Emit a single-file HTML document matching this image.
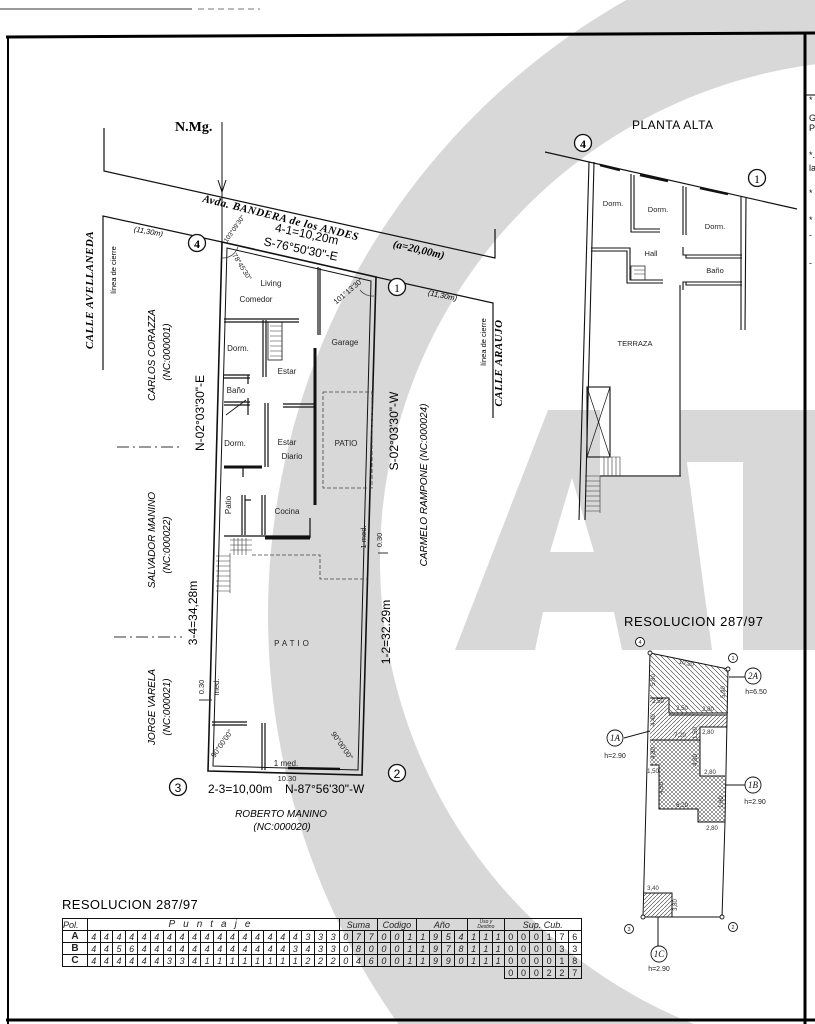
<!DOCTYPE html>
<html><head><meta charset="utf-8">
<style>
html,body{margin:0;padding:0;background:#fff;width:815px;height:1024px;overflow:hidden;}
body{position:relative;font-family:"Liberation Sans",sans-serif;}
svg{position:absolute;left:0;top:0;overflow:hidden;}
table{position:absolute;left:62px;top:918px;border-collapse:collapse;table-layout:fixed;font-family:"Liberation Sans",sans-serif;font-style:italic;font-size:9px;color:#222;}
td{border:1px solid #111;height:11px;padding:0;text-align:center;line-height:10px;overflow:hidden;white-space:nowrap;}
td.h{font-size:9px;}
td.p{font-style:normal;font-weight:bold;font-size:10px;}
td.n{border:none;}
td.s{font-style:normal;font-size:9px;}
</style></head><body>
<svg width="815" height="1024" viewBox="0 0 815 1024" xmlns="http://www.w3.org/2000/svg">
<defs>
<clipPath id="pg"><rect x="0" y="0" width="815" height="1024"/></clipPath>
<pattern id="hb" width="5" height="5" patternUnits="userSpaceOnUse"><path d="M-1,-1 L6,6" stroke="#333" stroke-width="0.6"/></pattern>
<pattern id="hf" width="4" height="4" patternUnits="userSpaceOnUse"><path d="M-1,5 L5,-1" stroke="#333" stroke-width="0.6"/></pattern>
<pattern id="hx" width="4" height="4" patternUnits="userSpaceOnUse"><path d="M0,0 L4,4 M0,4 L4,0" stroke="#333" stroke-width="0.5"/></pattern>
</defs>
<g clip-path="url(#pg)">
<circle cx="975" cy="615" r="707" fill="#d8d8d8"/>
<circle cx="880" cy="560" r="500" fill="#fff"/>
<path d="M455,650 L548,410 L680,410 L712,650 Z" fill="#d8d8d8"/>
<path d="M550,552 L572,478 L594,552 Z" fill="#fff"/>
<path d="M543,612 L614,612 L622,650 L535,650 Z" fill="#fff"/>
<rect x="670" y="410" width="145" height="52" fill="#d8d8d8"/>
<rect x="743" y="462" width="72" height="188" fill="#d8d8d8"/>
<rect x="600" y="380" width="80" height="95" fill="#fff"/>
</g>

<line x1="0" y1="9" x2="192" y2="9" stroke="#333" stroke-width="1"/>
<line x1="198" y1="9" x2="260" y2="9" stroke="#777" stroke-width="1" stroke-dasharray="6,4"/>
<line x1="6" y1="37" x2="815" y2="33" stroke="#000" stroke-width="3"/>
<line x1="8" y1="36" x2="8" y2="1024" stroke="#000" stroke-width="2"/>
<line x1="805" y1="33" x2="805" y2="1024" stroke="#000" stroke-width="3"/>
<line x1="6" y1="1020" x2="815" y2="1020" stroke="#000" stroke-width="3"/>
<line x1="805" y1="95" x2="815" y2="95" stroke="#000" stroke-width="1"/>
<g font-size="9" fill="#111">
<text x="809" y="103">*</text><text x="809" y="121">G</text><text x="809" y="131">P</text>
<text x="809" y="158">*.</text><text x="809" y="171">la</text>
<text x="809" y="196">*</text><text x="809" y="223">*</text><text x="809" y="238">-</text><text x="809" y="266">-</text>
</g>

<text x="175" y="131" font-family="Liberation Serif,serif" font-weight="bold" font-size="14">N.Mg.</text>
<line x1="222" y1="122" x2="222" y2="243" stroke="#111" stroke-width="1"/>
<path d="M218,180 L222,192 L226,180" fill="none" stroke="#111" stroke-width="1"/>

<polyline points="104,128 104,171 495,258 495,229" fill="none" stroke="#111" stroke-width="1.2"/>
<polyline points="103,370 103,216 222,242" fill="none" stroke="#111" stroke-width="1.2"/>
<polyline points="376,277 493,303 493,418" fill="none" stroke="#111" stroke-width="1.2"/>
<text transform="translate(280,221) rotate(14)" text-anchor="middle" font-family="Liberation Serif,serif" font-weight="bold" font-style="italic" font-size="11" letter-spacing="0.5">Avda. BANDERA de los ANDES</text>
<text transform="translate(418,253) rotate(13)" text-anchor="middle" font-family="Liberation Serif,serif" font-weight="bold" font-style="italic" font-size="11">(a=20,00m)</text>
<text transform="translate(306,238) rotate(12)" text-anchor="middle" font-size="12">4-1=10,20m</text>
<text transform="translate(300,253) rotate(12)" text-anchor="middle" font-size="12">S-76°50'30"-E</text>
<text transform="translate(148,234) rotate(10)" text-anchor="middle" font-size="7.5" font-style="italic">(11,30m)</text>
<text transform="translate(442,298) rotate(12)" text-anchor="middle" font-size="7.5" font-style="italic">(11,30m)</text>
<circle cx="197" cy="243" r="8.5" fill="#fff" stroke="#111" stroke-width="1.3"/>
<text x="197" y="248" text-anchor="middle" font-family="Liberation Serif,serif" font-weight="bold" font-size="12">4</text>
<circle cx="397" cy="287" r="8.5" fill="#fff" stroke="#111" stroke-width="1.3"/>
<text x="397" y="292" text-anchor="middle" font-family="Liberation Serif,serif" font-size="12">1</text>

<g font-size="10">
<text transform="translate(93,290) rotate(-90)" text-anchor="middle" font-family="Liberation Serif,serif" font-weight="bold" font-style="italic" font-size="11" letter-spacing="0.5">CALLE   AVELLANEDA</text>
<text transform="translate(116,270) rotate(-90)" text-anchor="middle" font-size="7.5">línea  de  cierre</text>
<text transform="translate(155,355) rotate(-90)" text-anchor="middle" font-style="italic">CARLOS CORAZZA</text>
<text transform="translate(170,352) rotate(-90)" text-anchor="middle" font-style="italic">(NC:000001)</text>
<text transform="translate(204,413) rotate(-90)" text-anchor="middle" font-size="12">N-02°03'30"-E</text>
<text transform="translate(155,540) rotate(-90)" text-anchor="middle" font-style="italic">SALVADOR MANINO</text>
<text transform="translate(170,545) rotate(-90)" text-anchor="middle" font-style="italic">(NC:000022)</text>
<text transform="translate(197,613) rotate(-90)" text-anchor="middle" font-size="12">3-4=34,28m</text>
<text transform="translate(155,707) rotate(-90)" text-anchor="middle" font-style="italic">JORGE VARELA</text>
<text transform="translate(170,707) rotate(-90)" text-anchor="middle" font-style="italic">(NC:000021)</text>
<text transform="translate(398,431) rotate(-90)" text-anchor="middle" font-size="12">S-02°03'30"-W</text>
<text transform="translate(427,485) rotate(-90)" text-anchor="middle" font-style="italic">CARMELO RAMPONE   (NC:000024)</text>
<text transform="translate(390,632) rotate(-90)" text-anchor="middle" font-size="12">1-2=32.29m</text>
<text transform="translate(486,342) rotate(-90)" text-anchor="middle" font-size="7.5">línea  de  cierre</text>
<text transform="translate(502,363) rotate(-90)" text-anchor="middle" font-family="Liberation Serif,serif" font-weight="bold" font-style="italic" font-size="11" letter-spacing="0.5">CALLE   ARAUJO</text>
</g>
<line x1="117" y1="447" x2="182" y2="447" stroke="#333" stroke-dasharray="12,4,2,4"/>
<line x1="114" y1="637" x2="182" y2="637" stroke="#333" stroke-dasharray="12,4,2,4"/>

<polygon points="222,242 376,277 362,775 208,771" fill="none" stroke="#111" stroke-width="1.6"/>
<polygon points="227,248 371,281 358,770 213,766" fill="none" stroke="#111" stroke-width="1"/>
<g stroke="#111" stroke-width="1.2" fill="none">
<line x1="318" y1="267" x2="318" y2="335"/><line x1="320" y1="268" x2="320" y2="335"/>
<line x1="224" y1="319" x2="299" y2="319"/><line x1="224" y1="322" x2="299" y2="322"/>
<rect x="268" y="322" width="14" height="38" stroke-width="0.8"/>
<line x1="263" y1="320" x2="263" y2="377"/><line x1="266" y1="320" x2="266" y2="377"/>
<line x1="224" y1="375" x2="250" y2="375"/><line x1="224" y1="378" x2="250" y2="378"/>
<line x1="248" y1="375" x2="248" y2="384"/>
<line x1="224" y1="402" x2="250" y2="402"/><line x1="224" y1="405" x2="250" y2="405"/>
<line x1="248" y1="398" x2="248" y2="415"/>
<line x1="226" y1="415" x2="246" y2="400" stroke-width="0.8"/>
<line x1="265" y1="403" x2="265" y2="467"/><line x1="268" y1="403" x2="268" y2="467"/>
<line x1="224" y1="467" x2="262" y2="467" stroke-width="3"/>
<line x1="243" y1="467" x2="243" y2="477"/>
<line x1="315" y1="348" x2="315" y2="505" stroke-width="3"/>
<line x1="283" y1="404" x2="315" y2="404"/><line x1="283" y1="407" x2="315" y2="407"/>
<line x1="242" y1="495" x2="242" y2="535"/><line x1="245" y1="495" x2="245" y2="535"/>
<line x1="245" y1="500" x2="251" y2="500"/>
<line x1="262" y1="495" x2="262" y2="535"/><line x1="265" y1="495" x2="265" y2="535"/>
<line x1="224" y1="536" x2="310" y2="536"/><line x1="265" y1="538" x2="310" y2="538" stroke-width="3"/>
<line x1="310" y1="518" x2="310" y2="538"/>
<line x1="212" y1="722" x2="247" y2="722"/><line x1="212" y1="725" x2="247" y2="725"/>
<line x1="262" y1="723" x2="262" y2="770"/><line x1="265" y1="723" x2="265" y2="770"/>
<line x1="288" y1="768" x2="340" y2="769" stroke-width="2.5"/>
</g>
<g stroke="#444" stroke-width="0.8" fill="none" stroke-dasharray="4,2">
<rect x="323" y="392" width="49" height="96"/>
<polyline points="252,555 320,555 320,579 367,579"/>
</g>
<g stroke="#333" stroke-width="0.6" fill="none">
<path d="M230,540 H252 M230,545 H252 M230,550 H252 M234,538 V555 M238,538 V555 M242,538 V555 M246,538 V555"/>
<path d="M216,556 H230 M216,561 H230 M216,566 H230 M216,571 H230 M216,576 H230 M216,581 H230 M216,586 H230 M216,591 H230 M230,553 V593"/>
<path d="M270,326 H282 M270,331 H282 M270,336 H282 M270,341 H282 M270,346 H282 M270,351 H282 M270,356 H282"/>
</g>
<g font-size="8" fill="#222" text-anchor="middle">
<text x="271" y="286">Living</text>
<text x="256" y="302">Comedor</text>
<text x="238" y="351">Dorm.</text>
<text x="287" y="374">Estar</text>
<text x="345" y="345">Garage</text>
<text x="236" y="393">Baño</text>
<text x="235" y="446">Dorm.</text>
<text x="287" y="445">Estar</text>
<text x="292" y="459">Diario</text>
<text x="346" y="446">PATIO</text>
<text x="287" y="514">Cocina</text>
<text transform="translate(231,505) rotate(-90)">Patio</text>
<text x="293" y="646" font-size="8" letter-spacing="3">PATIO</text>
<text transform="translate(236,230) rotate(-55)" font-size="6.5">103°09'30"</text>
<text transform="translate(240,268) rotate(58)" font-size="7">78°45'30"</text>
<text transform="translate(350,293) rotate(-40)" font-size="7.5">101°13'30"</text>
<text transform="translate(224,745) rotate(-55)" font-size="7.5">90°00'00"</text>
<text transform="translate(340,747) rotate(55)" font-size="7.5">90°00'00"</text>
<text transform="translate(366,537) rotate(-90)" font-size="7.5">1 med.</text>
<text transform="translate(382,540) rotate(-90)" font-size="7.5">0.30</text>
<text transform="translate(204,687) rotate(-90)" font-size="7.5">0.30</text>
<text transform="translate(219,687) rotate(-90)" font-size="7.5">med.</text>
<text x="286" y="766" font-size="8">1 med.</text>
<text x="287" y="781" font-size="7.5">10.30</text>
</g>
<line x1="199" y1="700" x2="212" y2="700" stroke="#333"/>
<line x1="378" y1="553" x2="388" y2="553" stroke="#333"/>
<path d="M222,258 A16,16 0 0 0 238,247" fill="none" stroke="#333" stroke-width="0.7"/>
<path d="M360,290 A16,16 0 0 0 374,296" fill="none" stroke="#333" stroke-width="0.7"/>

<circle cx="178" cy="787" r="8.5" fill="#fff" stroke="#111" stroke-width="1.3"/>
<text x="178" y="792" text-anchor="middle" font-size="12">3</text>
<circle cx="397" cy="773" r="8.5" fill="#fff" stroke="#111" stroke-width="1.3"/>
<text x="397" y="778" text-anchor="middle" font-size="12">2</text>
<text x="208" y="793" font-size="12">2-3=10,00m</text>
<text x="285" y="793" font-size="12">N-87°56'30"-W</text>
<text x="281" y="817" text-anchor="middle" font-size="10" font-style="italic">ROBERTO MANINO</text>
<text x="282" y="830" text-anchor="middle" font-size="10" font-style="italic">(NC:000020)</text>

<text x="632" y="129" font-size="12" letter-spacing="0.5">PLANTA  ALTA</text>
<line x1="545" y1="152" x2="797" y2="209" stroke="#111" stroke-width="1.2"/>
<line x1="600" y1="165" x2="620" y2="170" stroke="#111" stroke-width="2.5"/>
<line x1="640" y1="175" x2="668" y2="181" stroke="#111" stroke-width="2.5"/>
<line x1="700" y1="188" x2="728" y2="194" stroke="#111" stroke-width="2.5"/>
<circle cx="583" cy="143" r="8.5" fill="#fff" stroke="#111" stroke-width="1.3"/>
<text x="583" y="148" text-anchor="middle" font-family="Liberation Serif,serif" font-weight="bold" font-size="12">4</text>
<circle cx="757" cy="178" r="8.5" fill="#fff" stroke="#111" stroke-width="1.3"/>
<text x="757" y="183" text-anchor="middle" font-family="Liberation Serif,serif" font-size="12">1</text>
<g stroke="#111" stroke-width="1.1" fill="none">
<line x1="589" y1="162" x2="579" y2="520"/><line x1="594" y1="162" x2="585" y2="520"/>
<line x1="741" y1="197" x2="741" y2="330"/><line x1="746" y1="197" x2="745" y2="330"/>
<polyline points="631,174 631,232 660,232"/><polyline points="634,175 634,229 660,229"/>
<line x1="683" y1="186" x2="683" y2="235"/><line x1="686" y1="187" x2="686" y2="235"/>
<polyline points="591,248 630,248 630,280 663,280"/><polyline points="591,251 627,251 627,283 663,283"/>
<rect x="631" y="266" width="14" height="14" stroke-width="0.7"/>
<polyline points="683,247 683,255 742,255"/><polyline points="686,255 686,258 742,258"/>
<polyline points="683,290 683,282 742,282"/><polyline points="686,282 686,285 742,285"/>
<line x1="680" y1="285" x2="680" y2="476"/>
<line x1="600" y1="476" x2="681" y2="476"/>
<rect x="587" y="387" width="23" height="70"/>
<path d="M587,387 L610,457 M610,387 L587,457" stroke-width="0.7"/>
</g>
<g stroke="#333" stroke-width="0.6" fill="none">
<path d="M600,457 H620 V476 M604,457 V476 M608,457 V476 M612,457 V476 M616,457 V476"/>
<path d="M585,476 H600 V513 M585,481 H600 M585,486 H600 M585,491 H600 M585,496 H600 M585,501 H600 M585,506 H600 M585,511 H600"/>
<path d="M634,270 H645 M634,274 H645"/>
</g>
<g font-size="7.5" fill="#222" text-anchor="middle">
<text x="613" y="206">Dorm.</text><text x="658" y="212">Dorm.</text><text x="715" y="229">Dorm.</text>
<text x="651" y="256">Hall</text><text x="715" y="273">Baño</text><text x="635" y="346">TERRAZA</text>
</g>

<text x="624" y="626" font-size="13" letter-spacing="0.6">RESOLUCION  287/97</text>
<polygon points="650,653 728,669 728,713 669,713 669,698 650,698" fill="url(#hb)"/>
<polygon points="650,698 669,698 669,713 727,715 727,727 700,727 700,740 650,740" fill="url(#hf)"/>
<polygon points="650,740 700,740 700,776 725,776 725,822 698,822 698,809 659,809 659,765 650,765" fill="url(#hx)"/>
<polygon points="644,893 672,893 672,917 644,917" fill="url(#hf)"/>
<g stroke="#111" stroke-width="1" fill="none">
<polyline points="650,653 728,669 725,822 722,917 643,917 650,653"/>
<polyline points="650,698 669,698 669,713 727,713"/>
<polyline points="669,715 727,715"/>
<polyline points="650,740 700,740 700,727 727,727"/>
<polyline points="700,740 700,776 725,776"/>
<polyline points="650,765 659,765 659,809 698,809 698,822 725,822"/>
<polyline points="644,893 672,893 672,917"/>
<line x1="729" y1="677" x2="745" y2="677"/><line x1="650" y1="731" x2="624" y2="738"/>
<line x1="725" y1="785" x2="745" y2="785"/><line x1="658" y1="917" x2="658" y2="946"/>
</g>
<g fill="#fff" stroke="#111" stroke-width="0.9">
<circle cx="650" cy="653" r="2"/><circle cx="728" cy="669" r="2"/><circle cx="643" cy="917" r="2"/><circle cx="722" cy="917" r="2"/>
<circle cx="640" cy="642" r="4.5"/><circle cx="733" cy="658" r="4.5"/><circle cx="629" cy="929" r="4.5"/><circle cx="733" cy="927" r="4.5"/>
<circle cx="753" cy="676" r="8"/><circle cx="615" cy="738" r="8"/><circle cx="753" cy="785" r="8"/><circle cx="659" cy="954" r="8"/>
</g>
<g font-size="5.5" text-anchor="middle" fill="#222">
<text x="640" y="644">4</text><text x="733" y="660">1</text><text x="629" y="931">3</text><text x="733" y="929">2</text>
</g>
<g font-family="Liberation Serif,serif" font-style="italic" font-size="9" text-anchor="middle" fill="#111">
<text x="753" y="679">2A</text><text x="615" y="741">1A</text><text x="753" y="788">1B</text><text x="659" y="957">1C</text>
</g>
<g font-size="7" text-anchor="middle" fill="#222">
<text x="756" y="694">h=6.50</text><text x="615" y="758">h=2.90</text><text x="755" y="804">h=2.90</text><text x="659" y="971">h=2.90</text>
</g>
<g font-size="6" fill="#333" text-anchor="middle">
<text transform="translate(686,665) rotate(12)">10,20</text>
<text transform="translate(655,680) rotate(-90)">5,80</text>
<text x="658" y="703">2,50</text><text x="682" y="710">2,50</text><text x="708" y="711">2,80</text>
<text transform="translate(725,692) rotate(-90)">5,90</text>
<text transform="translate(655,720) rotate(-90)">4,40</text>
<text x="680" y="737">7,20</text><text x="708" y="734">2,80</text>
<text transform="translate(697,733) rotate(-90)">1,50</text>
<text transform="translate(655,753) rotate(-90)">4,80</text>
<text transform="translate(697,760) rotate(-90)">4,80</text>
<text x="710" y="774">2,80</text><text x="653" y="773">1,50</text>
<text transform="translate(663,788) rotate(-90)">4,50</text>
<text x="682" y="807">6,20</text>
<text transform="translate(723,802) rotate(-90)">1,60</text>
<text x="712" y="830">2,80</text><text x="653" y="890">3,40</text>
<text transform="translate(677,905) rotate(-90)">3,80</text>
</g>

<text x="62" y="909" font-size="13" letter-spacing="0.4">RESOLUCION  287/97</text>
</svg>

<table>
<colgroup>
<col style="width:25px">
<col style="width:12.6px"><col style="width:12.6px"><col style="width:12.6px"><col style="width:12.6px"><col style="width:12.6px"><col style="width:12.6px"><col style="width:12.6px"><col style="width:12.6px"><col style="width:12.6px"><col style="width:12.6px"><col style="width:12.6px"><col style="width:12.6px"><col style="width:12.6px"><col style="width:12.6px"><col style="width:12.6px"><col style="width:12.6px"><col style="width:12.6px"><col style="width:12.6px"><col style="width:12.6px"><col style="width:12.6px">
<col style="width:12.7px"><col style="width:12.7px"><col style="width:12.7px">
<col style="width:13px"><col style="width:13px"><col style="width:13px">
<col style="width:12.75px"><col style="width:12.75px"><col style="width:12.75px"><col style="width:12.75px">
<col style="width:12.3px"><col style="width:12.3px"><col style="width:12.3px">
<col style="width:12.8px"><col style="width:12.8px"><col style="width:12.8px"><col style="width:12.8px"><col style="width:12.8px"><col style="width:12.8px">
</colgroup>
<tr><td class="h" style="text-align:left">Pol.</td><td colspan="20" class="h" style="letter-spacing:8px;font-size:10px">Puntaje</td><td colspan="3" class="h">Suma</td><td colspan="3" class="h">Codigo</td><td colspan="4" class="h">Año</td><td colspan="3" class="h" style="font-size:5px;line-height:5px">Uso y<br>Destino</td><td colspan="6" class="h">Sup. Cub.</td></tr>
<tr><td class="p">A</td><td>4</td><td>4</td><td>4</td><td>4</td><td>4</td><td>4</td><td>4</td><td>4</td><td>4</td><td>4</td><td>4</td><td>4</td><td>4</td><td>4</td><td>4</td><td>4</td><td>4</td><td>3</td><td>3</td><td>3</td><td>0</td><td>7</td><td>7</td><td>0</td><td>0</td><td>1</td><td>1</td><td>9</td><td>5</td><td>4</td><td>1</td><td>1</td><td>1</td><td class="s">0</td><td class="s">0</td><td class="s">0</td><td class="s">1</td><td class="s">7</td><td class="s">6</td></tr>
<tr><td class="p">B</td><td>4</td><td>4</td><td>5</td><td>6</td><td>4</td><td>4</td><td>4</td><td>4</td><td>4</td><td>4</td><td>4</td><td>4</td><td>4</td><td>4</td><td>4</td><td>4</td><td>3</td><td>4</td><td>3</td><td>3</td><td>0</td><td>8</td><td>0</td><td>0</td><td>0</td><td>1</td><td>1</td><td>9</td><td>7</td><td>8</td><td>1</td><td>1</td><td>1</td><td class="s">0</td><td class="s">0</td><td class="s">0</td><td class="s">0</td><td class="s">3</td><td class="s">3</td></tr>
<tr><td class="p">C</td><td>4</td><td>4</td><td>4</td><td>4</td><td>4</td><td>4</td><td>3</td><td>3</td><td>4</td><td>1</td><td>1</td><td>1</td><td>1</td><td>1</td><td>1</td><td>1</td><td>1</td><td>2</td><td>2</td><td>2</td><td>0</td><td>4</td><td>6</td><td>0</td><td>0</td><td>1</td><td>1</td><td>9</td><td>9</td><td>0</td><td>1</td><td>1</td><td>1</td><td class="s">0</td><td class="s">0</td><td class="s">0</td><td class="s">0</td><td class="s">1</td><td class="s">8</td></tr>
<tr><td class="n" colspan="34"></td><td class="s">0</td><td class="s">0</td><td class="s">0</td><td class="s">2</td><td class="s">2</td><td class="s">7</td></tr>
</table>
</body></html>
